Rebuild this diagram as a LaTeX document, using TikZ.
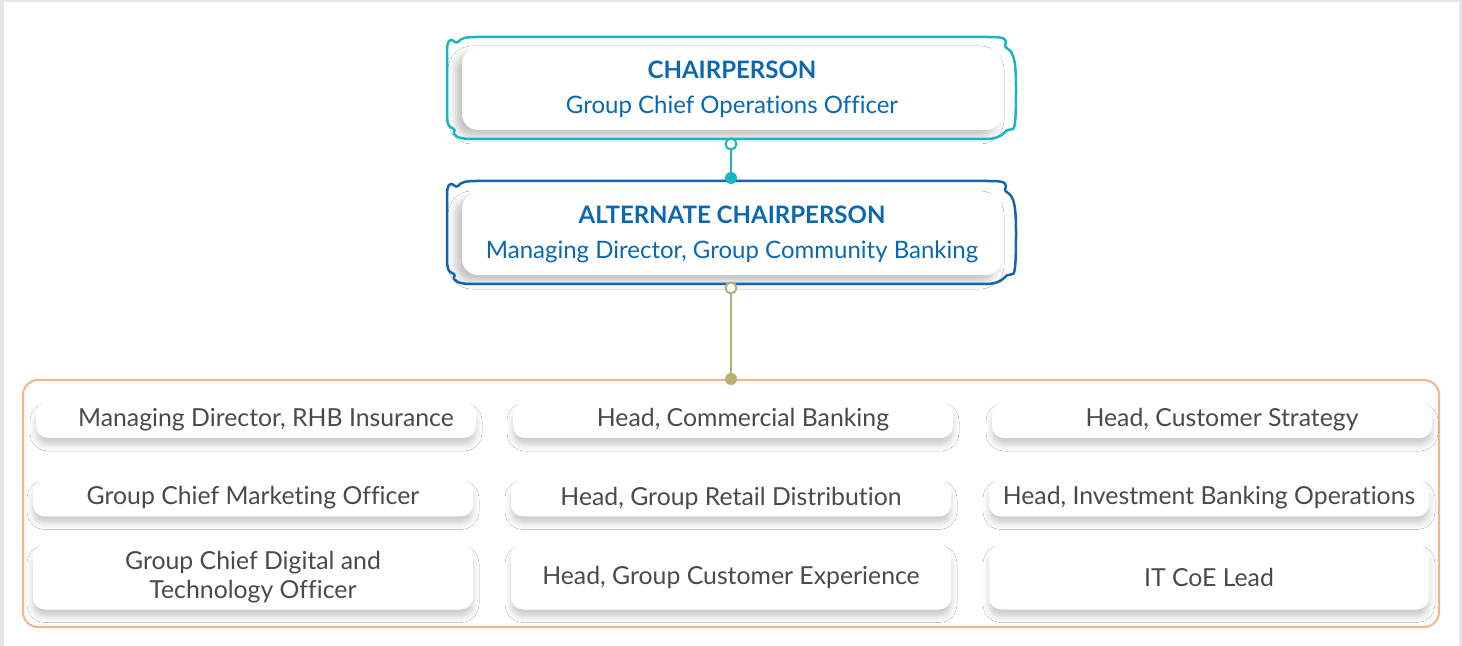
\documentclass[tikz,border=0pt]{standalone}
\usepackage{fontspec}
\setmainfont{Lato}[Ligatures=NoCommon]
\usetikzlibrary{shadows.blur}

\definecolor{chairteal}{HTML}{19B6C2}
\definecolor{altblue}{HTML}{1663AE}
\definecolor{titleblue}{HTML}{0A67B2}
\definecolor{linkolive}{HTML}{B7B171}
\definecolor{grouporange}{HTML}{F7B48A}
\definecolor{itemgrey}{HTML}{4A4A4A}
\definecolor{pagegrey}{HTML}{E5E6E8}

% wavy frame round a head box: colour, left, top, right, bottom
\newcommand\pillow[5]{%
  \draw[#1, line width=1.25pt, line join=round]
    ({#2},{#3+14}) .. controls ({#2},{#3+5}) and ({#2+2},{#3+3}) .. ({#2+5},{#3+3})
    .. controls ({#2+7},{#3+3}) and ({#2+8},{#3+7}) .. ({#2+11},{#3+5})
    .. controls ({#2+14},{#3+1}) and ({#2+19},{#3}) .. ({#2+30},{#3})
    -- ({#4-30},{#3})
    .. controls ({#4-18},{#3}) and ({#4-10},{#3}) .. ({#4-10},{#3+5})
    .. controls ({#4-10},{#3+8}) and ({#4-13},{#3+9}) .. ({#4-8},{#3+12})
    .. controls ({#4-2},{#3+16}) and ({#4},{#3+25}) .. ({#4},{(#3+#5)/2})
    .. controls ({#4},{#5-20}) and ({#4-1},{#5-11}) .. ({#4-3},{#5-10})
    .. controls ({#4-6},{#5-8}) and ({#4-8},{#5-11}) .. ({#4-12},{#5-6})
    .. controls ({#4-16},{#5-2}) and ({#4-22},{#5}) .. ({#4-30},{#5})
    -- ({#2+30},{#5})
    .. controls ({#2+20},{#5}) and ({#2+10},{#5}) .. ({#2+7},{#5-5})
    .. controls ({#2+5},{#5-8}) and ({#2+12},{#5-8}) .. ({#2+3},{#5-12})
    .. controls ({#2},{#5-15}) and ({#2},{#5-20}) .. ({#2},{#5-30})
    -- cycle;}

\begin{document}
\begin{tikzpicture}[x=0.5pt, y=-0.5pt,
    head/.style={fill=white, rounded corners=8pt, minimum width=270pt, minimum height=41pt,
      align=center, text=titleblue, font=\fontsize{12}{14.5}\selectfont,
      blur shadow={shadow xshift=-3pt, shadow yshift=-3pt, shadow blur radius=4pt, shadow opacity=25}},
    item/.style={fill=white, rounded corners=6pt, minimum width=220pt, inner sep=0pt,
      align=center, text=itemgrey, font=\fontsize{12.4}{14.5}\selectfont,
      blur shadow={shadow xshift=0pt, shadow yshift=-3.5pt, shadow blur radius=3pt, shadow opacity=20}},
    opendot/.style={circle, draw=#1, fill=white, line width=1pt, minimum size=5.5pt, inner sep=0pt},
    fulldot/.style={circle, fill=#1, minimum size=6pt, inner sep=0pt}]
  \useasboundingbox (0,0) rectangle (1462,646);
  \fill[pagegrey] (0,0) rectangle (1462,646);
  \fill[white] (4,2) rectangle (1459,646);

  \node[head] (chair) at (732,89) {\textbf{CHAIRPERSON}\\[3pt]Group Chief Operations Officer};
  \node[head] (alt) at (732,234) {\textbf{ALTERNATE CHAIRPERSON}\\[3pt]Managing Director, Group Community Banking};
  \pillow{chairteal}{447}{37}{1016}{139}
  \pillow{altblue}{447}{181}{1016}{284}

  \node[draw=grouporange, line width=1pt, rounded corners=7.5pt, minimum width=708pt, minimum height=123.5pt] (group) at (731,503.5) {};

  \node[opendot=chairteal] (chairport) at (731,144) {};
  \node[fulldot=chairteal] (altin) at (731,178) {};
  \node[opendot=linkolive] (altport) at (731,288) {};
  \node[fulldot=linkolive] (groupin) at (group.north) {};
  \draw[chairteal, line width=1pt] (chairport) -- (altin);
  \draw[linkolive, line width=1pt] (altport) -- (groupin);

  \node[item, minimum height=18pt] (insurance) at (256,420) {\hspace*{10pt}Managing Director, RHB Insurance};
  \node[item, minimum height=18pt] (commercial) at (733,420) {\hspace*{10pt}Head, Commercial Banking};
  \node[item, minimum height=18pt] (strategy) at (1212,420) {\hspace*{10pt}Head, Customer Strategy};
  \node[item, minimum height=18.5pt] (marketing) at (253,498) {Group Chief Marketing Officer};
  \node[item, minimum height=18.5pt] (retail) at (731,498) {Head, Group Retail Distribution};
  \node[item, minimum height=18.5pt] (investment) at (1209,498) {Head, Investment Banking Operations};
  \node[item, minimum height=32.5pt] (digital) at (253,577) {Group Chief Digital and\\Technology Officer};
  \node[item, minimum height=32.5pt] (experience) at (731,577) {Head, Group Customer Experience};
  \node[item, minimum height=32.5pt] (itcoe) at (1209,577) {IT CoE Lead};
\end{tikzpicture}
\end{document}
